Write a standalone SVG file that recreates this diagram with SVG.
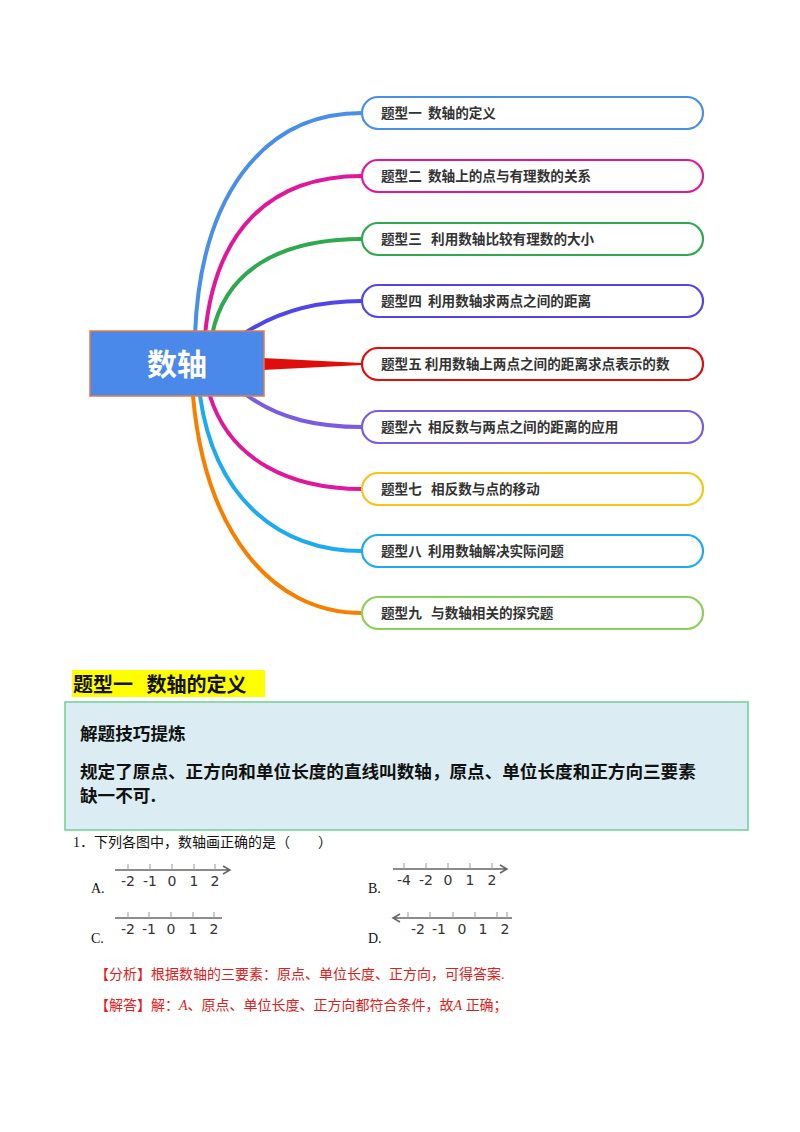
<svg xmlns="http://www.w3.org/2000/svg" width="800" height="1132" viewBox="0 0 800 1132">
<style>
text{white-space:pre}
.bt{font-family:"Noto Sans CJK SC","Noto Sans",sans-serif;font-weight:bold;font-size:13.6px;fill:#333}
.box{fill:#fff;stroke-width:2.2}
.br{fill:none;stroke-linecap:round}
.s{font-family:"Liberation Serif","Noto Sans CJK SC",serif;font-size:14px;fill:#111}
.nl{stroke:#666;stroke-width:1.5;fill:none}
.tk{stroke:#999;stroke-width:1}
.nt{font-family:"DejaVu Sans",sans-serif;font-size:14px;fill:#333;text-anchor:middle}
.r{font-family:"Liberation Serif","Noto Sans CJK SC",serif;font-size:14px;fill:#e02020}
.k{font-family:"Noto Sans CJK SC",serif;font-weight:bold;font-size:17.6px;fill:#111}
</style>
<rect width="800" height="1132" fill="#fff"/>
<g id="connectors">
<path class="br" stroke="#4a8fe7" stroke-width="4" d="M195,335 C200,200 260,113 362,113"/>
<path class="br" stroke="#e0179b" stroke-width="4" d="M205,335 C215,230 270,176 362,176"/>
<path class="br" stroke="#2fa84f" stroke-width="4" d="M212,335 C225,270 280,239 362,239"/>
<path class="br" stroke="#4f45e8" stroke-width="4" d="M245,333 C280,310 320,301 362,301"/>
<polygon fill="#e00d0d" points="262,358 362,363 362,365 262,370"/>
<path class="br" stroke="#7b5ce0" stroke-width="4" d="M245,394 C280,420 320,427 362,427"/>
<path class="br" stroke="#e0179b" stroke-width="4" d="M210,396 C230,460 290,489 362,489"/>
<path class="br" stroke="#1eaaf0" stroke-width="4" d="M200,396 C215,500 280,551 362,551"/>
<path class="br" stroke="#f77f00" stroke-width="4" d="M193,396 C205,530 270,613 362,613"/>
</g>
<g id="center"><rect x="90" y="331" width="174" height="65" fill="#4a89ea" stroke="#e07b4a" stroke-width="1.5"/>
<text x="177" y="375" text-anchor="middle" font-family="Noto Sans CJK SC,sans-serif" font-weight="bold" font-size="30" fill="#fff">数轴</text></g>
<g id="n1"><rect class="box" x="362" y="97" width="341" height="32" rx="16" stroke="#4a8fe7"/><text class="bt" x="381" y="118">题型一  数轴的定义</text></g>
<g id="n2"><rect class="box" x="362" y="160" width="341" height="32" rx="16" stroke="#e0179b"/><text class="bt" x="381" y="181">题型二  数轴上的点与有理数的关系</text></g>
<g id="n3"><rect class="box" x="362" y="223" width="341" height="32" rx="16" stroke="#2fa84f"/><text class="bt" x="381" y="244">题型三   利用数轴比较有理数的大小</text></g>
<g id="n4"><rect class="box" x="362" y="285" width="341" height="32" rx="16" stroke="#4f45e8"/><text class="bt" x="381" y="306">题型四  利用数轴求两点之间的距离</text></g>
<g id="n5"><rect class="box" x="362" y="348" width="341" height="32" rx="16" stroke="#e00d0d"/><text class="bt" x="381" y="369">题型五 利用数轴上两点之间的距离求点表示的数</text></g>
<g id="n6"><rect class="box" x="362" y="411" width="341" height="32" rx="16" stroke="#7b5ce0"/><text class="bt" x="381" y="432">题型六  相反数与两点之间的距离的应用</text></g>
<g id="n7"><rect class="box" x="362" y="473" width="341" height="32" rx="16" stroke="#f5c518"/><text class="bt" x="381" y="494">题型七   相反数与点的移动</text></g>
<g id="n8"><rect class="box" x="362" y="535" width="341" height="32" rx="16" stroke="#1eaaf0"/><text class="bt" x="381" y="556">题型八  利用数轴解决实际问题</text></g>
<g id="n9"><rect class="box" x="362" y="597" width="341" height="32" rx="16" stroke="#8cd05a"/><text class="bt" x="381" y="618">题型九   与数轴相关的探究题</text></g>

<rect x="72" y="670" width="193" height="27" fill="#ffff00"/>
<text x="73" y="692" font-family="Noto Sans CJK SC,sans-serif" font-weight="bold" font-size="20" fill="#111">题型一   数轴的定义</text>
<rect x="65" y="702" width="683" height="128" fill="#dbedf2" stroke="#6fcf97" stroke-width="1.5"/>
<text class="k" x="80" y="740">解题技巧提炼</text>
<text class="k" x="80" y="778">规定了原点、正方向和单位长度的直线叫数轴，原点、单位长度和正方向三要素</text>
<text class="k" x="80" y="802">缺一不可.</text>

<text class="s" x="73" y="847">1．下列各图中，数轴画正确的是（　　）</text>
<g id="A"><path class="nl" d="M115,870 H230 M223,866 L230,870 L223,874"/>
<path class="tk" d="M128,864V870M150,864V870M172,864V870M194,864V870M215,864V870"/>
<text class="nt" x="128" y="886">-2</text><text class="nt" x="150" y="886">-1</text><text class="nt" x="172" y="886">0</text><text class="nt" x="194" y="886">1</text><text class="nt" x="215" y="886">2</text>
<text class="s" x="91" y="893">A.</text></g>
<g id="B"><path class="nl" d="M393,869 H507 M500,865 L507,869 L500,873"/>
<path class="tk" d="M404,863V869M426,863V869M448,863V869M470,863V869M492,863V869"/>
<text class="nt" x="404" y="885">-4</text><text class="nt" x="426" y="885">-2</text><text class="nt" x="448" y="885">0</text><text class="nt" x="470" y="885">1</text><text class="nt" x="492" y="885">2</text>
<text class="s" x="368" y="893">B.</text></g>
<g id="C"><path class="nl" d="M115,918 H222"/>
<path class="tk" d="M128,912V918M149,912V918M171,912V918M193,912V918M214,912V918"/>
<text class="nt" x="128" y="934">-2</text><text class="nt" x="149" y="934">-1</text><text class="nt" x="171" y="934">0</text><text class="nt" x="193" y="934">1</text><text class="nt" x="214" y="934">2</text>
<text class="s" x="91" y="943">C.</text></g>
<g id="D"><path class="nl" d="M393,918 H512 M400,914 L393,918 L400,922"/>
<path class="tk" d="M408,912V918M430,912V918M453,912V918M475,912V918M497,912V918M507,912V918"/>
<text class="nt" x="418" y="934">-2</text><text class="nt" x="439" y="934">-1</text><text class="nt" x="462" y="934">0</text><text class="nt" x="483" y="934">1</text><text class="nt" x="505" y="934">2</text>
<text class="s" x="368" y="943">D.</text></g>
<text class="r" x="95" y="979">【分析】根据数轴的三要素：原点、单位长度、正方向，可得答案.</text>
<text class="r" x="95" y="1010">【解答】解：<tspan font-style="italic">A</tspan>、原点、单位长度、正方向都符合条件，故<tspan font-style="italic">A</tspan> 正确；</text>
</svg>
